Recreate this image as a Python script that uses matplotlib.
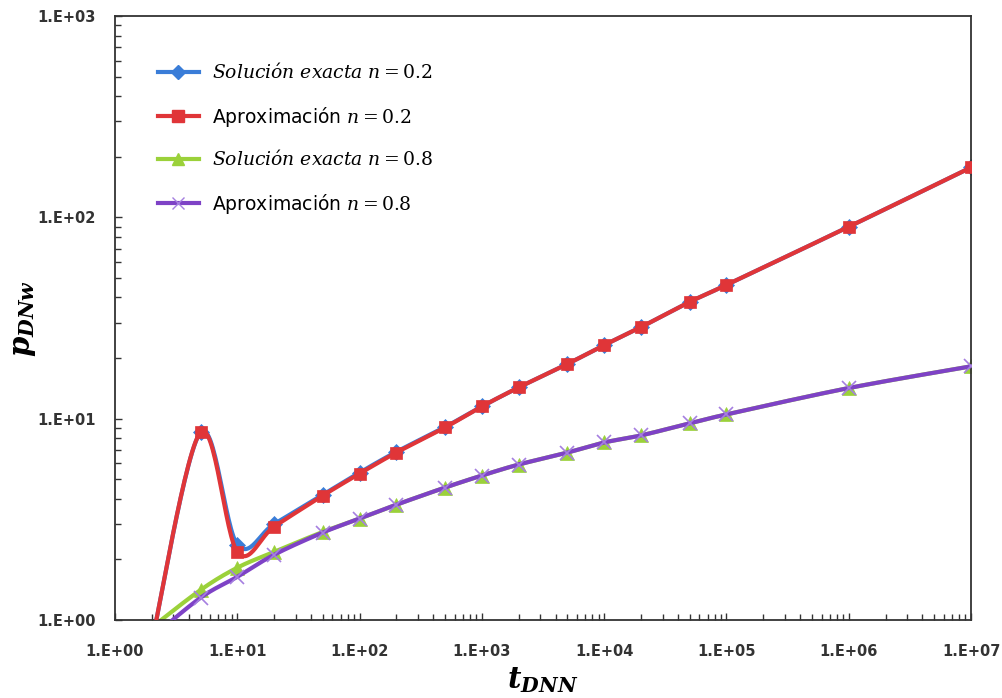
import numpy as np
import matplotlib
matplotlib.use("Agg")
import matplotlib.pyplot as plt
from matplotlib.ticker import FixedLocator, FixedFormatter, LogLocator, NullFormatter

# math text: italic serif for the variables, bold italic for axis labels
plt.rcParams['mathtext.fontset'] = 'custom'
plt.rcParams['mathtext.it'] = 'DejaVu Serif:italic'
plt.rcParams['mathtext.rm'] = 'DejaVu Serif'
plt.rcParams['mathtext.bf'] = 'DejaVu Serif:bold:italic'

# data
t = [2, 5, 10, 20, 50, 100, 200, 500, 1e3, 2e3, 5e3, 1e4, 2e4, 5e4, 1e5, 1e6, 1e7]
exact_02 = [0.78, 8.55, 2.37, 3.0, 4.2, 5.4, 6.85, 9.1, 11.5, 14.3, 18.7, 23.2, 28.5, 38.0, 46.2, 89.8, 177]
aprox_02 = [0.78, 8.55, 2.18, 2.91, 4.15, 5.34, 6.79, 9.05, 11.5, 14.3, 18.7, 23.2, 28.5, 38.0, 46.2, 89.8, 177]
exact_08 = [0.92, 1.41, 1.82, 2.18, 2.74, 3.19, 3.74, 4.55, 5.22, 5.92, 6.79, 7.62, 8.26, 9.48, 10.5, 14.2, 18.2]
aprox_08 = [0.82, 1.29, 1.64, 2.11, 2.72, 3.19, 3.74, 4.55, 5.22, 5.92, 6.79, 7.62, 8.26, 9.48, 10.5, 14.2, 18.2]

xticks = [1, 1e1, 1e2, 1e3, 1e4, 1e5, 1e6, 1e7]
xlabels = ['1.E+00', '1.E+01', '1.E+02', '1.E+03', '1.E+04', '1.E+05', '1.E+06', '1.E+07']
yticks = [1, 1e1, 1e2, 1e3]
ylabels = ['1.E+00', '1.E+01', '1.E+02', '1.E+03']


# smooth line like a spreadsheet "smoothed line" (Catmull-Rom in log space)
def smooth(x, y, n=30):
    lx, ly = np.log10(x), np.log10(y)
    P = np.column_stack([lx, ly])
    P = np.vstack([P[0], P, P[-1]])
    out = []
    s = np.linspace(0, 1, n)[:, None]
    for i in range(1, len(P) - 2):
        p0, p1, p2, p3 = P[i - 1], P[i], P[i + 1], P[i + 2]
        seg = 0.5 * ((2 * p1) + (-p0 + p2) * s + (2 * p0 - 5 * p1 + 4 * p2 - p3) * s ** 2
                     + (-p0 + 3 * p1 - 3 * p2 + p3) * s ** 3)
        out.append(seg)
    out = np.vstack(out)
    return 10 ** out[:, 0], 10 ** out[:, 1]


fig = plt.figure(figsize=(10.03, 6.98), dpi=100)
ax = fig.add_axes([0.1147, 0.1117, 0.8534, 0.8653])
ax.set_xscale('log')
ax.set_yscale('log')

series = [
    (exact_02, '#3A7DD8', 'D', 8, r'$Soluci\acute{o}n\ exacta\ n=0.2$', 2),
    (aprox_02, '#E03538', 's', 9, r'Aproximación $n=0.2$', 3),
    (exact_08, '#9BD13A', '^', 10, r'$Soluci\acute{o}n\ exacta\ n=0.8$', 2),
    (aprox_08, '#7E42C6', 'x', 10, r'Aproximación $n=0.8$', 3),
]
for ys, c, m, ms, lab, z in series:
    sx, sy = smooth(t, ys)
    ax.plot(sx, sy, color=c, lw=3, zorder=z, solid_capstyle='round')
    mc = '#A57FE0' if m == 'x' else c
    ax.plot(t, ys, ls='none', marker=m, ms=ms, color=mc, mew=1.2 if m == 'x' else 0.5,
            zorder=z + 0.5)
    ax.plot([], [], color=c, lw=3, marker=m, ms=ms - 1, mfc=mc, mec=mc, label=lab)

ax.set_xlim(1, 1e7)
ax.set_ylim(1, 1e3)

ax.xaxis.set_major_locator(FixedLocator(xticks))
ax.xaxis.set_major_formatter(FixedFormatter(xlabels))
ax.yaxis.set_major_locator(FixedLocator(yticks))
ax.yaxis.set_major_formatter(FixedFormatter(ylabels))
ax.xaxis.set_minor_locator(LogLocator(base=10, subs=np.arange(2, 10), numticks=20))
ax.yaxis.set_minor_locator(LogLocator(base=10, subs=np.arange(2, 10), numticks=20))
ax.xaxis.set_minor_formatter(NullFormatter())
ax.yaxis.set_minor_formatter(NullFormatter())
ax.tick_params(which='both', direction='in', top=False, right=False, color='#333333')
ax.tick_params(which='major', length=5, width=1)
ax.tick_params(which='minor', length=4, width=1)
ax.tick_params(axis='x', which='major', pad=17)
ax.tick_params(axis='y', which='major', pad=14)
for lab in ax.get_xticklabels() + ax.get_yticklabels():
    lab.set_fontweight('bold')
    lab.set_fontsize(10.5)
    lab.set_color('#333333')
for sp in ax.spines.values():
    sp.set_linewidth(1.3)
    sp.set_color('#333333')

ax.set_xlabel(r'$\mathbf{t_{DNN}}$', fontsize=21)
ax.set_ylabel(r'$\mathbf{p_{DNw}}$', fontsize=21)
ax.xaxis.set_label_coords(0.5, -0.075)
ax.yaxis.set_label_coords(-0.09, 0.5)

ax.legend(loc='upper left', bbox_to_anchor=(0.03, 0.95), frameon=False, fontsize=13.5,
          labelspacing=1.15, handlelength=2.2, handletextpad=0.7)

fig.savefig('out.png', dpi=100)
